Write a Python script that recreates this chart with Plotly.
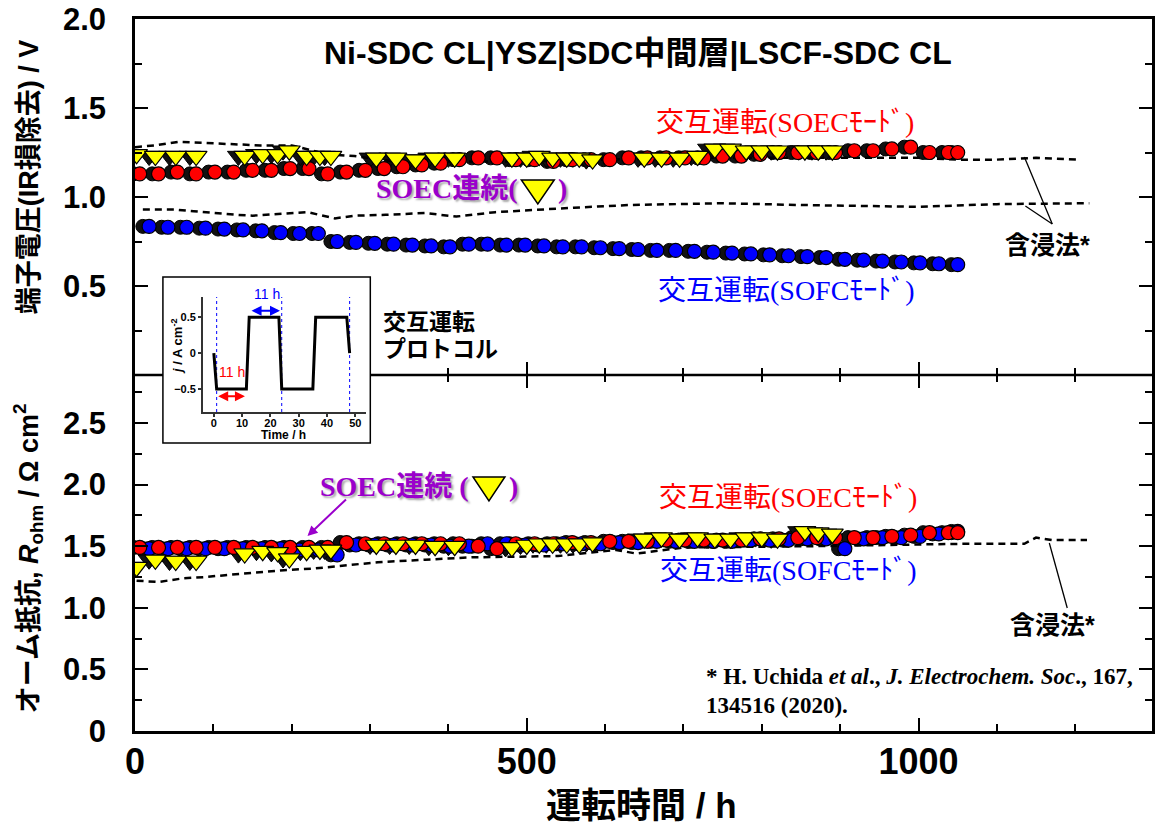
import plotly.graph_objects as go

# ---------------- data ----------------
# alternating operation (SOEC / SOFC modes), time in h
red_t = [6, 30, 54, 78, 102, 126, 150, 174, 198, 222, 246, 270, 294, 318, 342, 366, 390, 414, 438, 462,
         486, 510, 534, 558, 582, 606, 630, 654, 678, 702, 726, 750, 774, 798, 822, 846, 870, 894, 918,
         942, 966, 990, 1014, 1038, 1050]
red_top_v = [1.13, 1.13, 1.14, 1.13, 1.14, 1.14, 1.15, 1.15, 1.16, 1.16, 1.13, 1.14, 1.15, 1.16, 1.17,
             1.18, 1.19, 1.21, 1.22, 1.22, 1.21, 1.21, 1.20, 1.21, 1.21, 1.21, 1.22, 1.22, 1.22, 1.22,
             1.22, 1.23, 1.23, 1.24, 1.25, 1.25, 1.25, 1.25, 1.26, 1.26, 1.27, 1.28, 1.25, 1.25, 1.25]
red_bot_v = [1.49, 1.49, 1.49, 1.49, 1.49, 1.49, 1.49, 1.49, 1.49, 1.49, 1.49, 1.53, 1.52, 1.52, 1.52,
             1.52, 1.52, 1.52, 1.50, 1.48, 1.52, 1.52, 1.52, 1.53, 1.53, 1.54, 1.54, 1.54, 1.55, 1.55,
             1.55, 1.55, 1.55, 1.56, 1.56, 1.57, 1.57, 1.57, 1.57, 1.57, 1.58, 1.59, 1.61, 1.61, 1.61]

blue_t = [18, 42, 66, 90, 114, 138, 162, 186, 210, 234, 258, 282, 306, 330, 354, 378, 402, 426, 450, 474,
          498, 522, 546, 570, 594, 618, 642, 666, 690, 714, 738, 762, 786, 810, 834, 858, 882, 906, 930,
          954, 978, 1002, 1026, 1050]
blue_top_v = [0.835, 0.83, 0.83, 0.825, 0.82, 0.815, 0.81, 0.80, 0.795, 0.795, 0.75, 0.745, 0.74, 0.735,
              0.73, 0.725, 0.72, 0.735, 0.735, 0.73, 0.73, 0.725, 0.72, 0.72, 0.715, 0.71, 0.705, 0.70,
              0.70, 0.695, 0.69, 0.685, 0.68, 0.675, 0.67, 0.665, 0.66, 0.65, 0.645, 0.64, 0.635, 0.63,
              0.625, 0.62]
blue_bot_v = [1.48, 1.48, 1.48, 1.48, 1.48, 1.48, 1.48, 1.48, 1.47, 1.47, 1.43, 1.51, 1.51, 1.51, 1.51,
              1.51, 1.50, 1.50, 1.52, 1.52, 1.51, 1.51, 1.52, 1.52, 1.52, 1.53, 1.53, 1.54, 1.54, 1.54,
              1.54, 1.54, 1.55, 1.55, 1.55, 1.56, 1.56, 1.48, 1.56, 1.57, 1.57, 1.58, 1.60, 1.62]

# continuous SOEC operation
yel_t = [2, 26, 52, 78, 140, 163, 182, 197, 219, 236, 250, 308, 333, 358, 383, 408, 481, 500, 516, 533,
         551, 567, 584, 650, 672, 695, 718, 740, 760, 780, 800, 820, 855, 872, 890]
yel_top_v = [1.24, 1.23, 1.23, 1.23, 1.23, 1.24, 1.24, 1.26, 1.23, 1.23, 1.23, 1.22, 1.22, 1.21, 1.22,
             1.22, 1.22, 1.22, 1.23, 1.22, 1.22, 1.22, 1.21, 1.22, 1.22, 1.22, 1.23, 1.27, 1.27, 1.26,
             1.26, 1.26, 1.26, 1.26, 1.26]
yel_bot_v = [1.33, 1.39, 1.38, 1.38, 1.44, 1.46, 1.45, 1.40, 1.46, 1.47, 1.47, 1.51, 1.51, 1.51, 1.50,
             1.50, 1.49, 1.51, 1.52, 1.52, 1.52, 1.52, 1.53, 1.56, 1.57, 1.56, 1.57, 1.56, 1.56, 1.57,
             1.57, 1.56, 1.62, 1.61, 1.60]

# impregnation method (reference, dashed)
imp_soec_t = [0, 25, 55, 110, 160, 200, 245, 280, 330, 400, 500, 600, 700, 800, 900, 1000, 1050, 1100,
              1150, 1206]
imp_soec_v = [1.28, 1.29, 1.31, 1.30, 1.29, 1.29, 1.24, 1.23, 1.20, 1.20, 1.20, 1.21, 1.22, 1.22, 1.22,
              1.22, 1.21, 1.21, 1.22, 1.21]
imp_sofc_t = [10, 50, 75, 100, 130, 150, 180, 220, 255, 280, 320, 370, 410, 460, 560, 630, 750, 850,
              1000, 1100, 1218]
imp_sofc_v = [0.93, 0.93, 0.92, 0.91, 0.90, 0.895, 0.905, 0.915, 0.88, 0.895, 0.90, 0.91, 0.89, 0.915,
              0.94, 0.955, 0.965, 0.955, 0.945, 0.96, 0.965]
imp_r_t = [2, 30, 62, 90, 115, 160, 190, 230, 280, 310, 370, 430, 540, 614, 640, 700, 860, 940, 1060,
           1135, 1150, 1170, 1215]
imp_r_v = [1.22, 1.21, 1.24, 1.25, 1.265, 1.29, 1.305, 1.32, 1.35, 1.37, 1.39, 1.41, 1.42, 1.47, 1.44,
           1.49, 1.50, 1.51, 1.52, 1.52, 1.57, 1.55, 1.55]

# inset: alternating-operation protocol
proto_t = [0, 1, 11.5, 12.5, 23, 24, 35, 36, 47, 48]
proto_j = [0, -0.5, -0.5, 0.5, 0.5, -0.5, -0.5, 0.5, 0.5, 0]
proto_marks = [1, 24, 48]

x_ticks = [0, 500, 1000]
x_ticktext = ["0", "500", "1000"]
top_ticks = [0.5, 1.0, 1.5, 2.0]
top_ticktext = ["0.5", "1.0", "1.5", "2.0"]
bot_ticks = [0, 0.5, 1.0, 1.5, 2.0, 2.5]
bot_ticktext = ["0", "0.5", "1.0", "1.5", "2.0", "2.5"]

# ---------------- geometry ----------------
W, H = 1155, 824
L, T, PW, PH = 135, 19, 1020, 712
XMAX = 1298
SH = 8.0          # shadow shift (h)
TOP_MAX = 2.0
BOT_MAX = 2.89


def PX(x):
    return (x - L) / PW


def PY(y):
    return (T + PH - y) / PH


SANS = "Liberation Sans, Noto Sans CJK JP"
SERIF = "Liberation Serif, Noto Sans CJK JP"
PURPLE = "#9A00CC"

fig = go.Figure()


def marker_pair(t, v, color, symbol, size, xa_main, xa_shadow, ya):
    fig.add_trace(go.Scatter(x=t, y=v, mode="markers", xaxis=xa_shadow, yaxis=ya,
                             marker=dict(symbol=symbol, size=size, color="#111111",
                                         line=dict(color="black", width=1)),
                             hoverinfo="skip", showlegend=False))
    return dict(x=t, y=v, mode="markers", xaxis=xa_main, yaxis=ya,
                marker=dict(symbol=symbol, size=size, color=color,
                            line=dict(color="black", width=1.2)), showlegend=False)


CS, TS = 14, 19
main_traces = []
# top panel
main_traces.append(marker_pair(red_t, red_top_v, "#FF0000", "circle", CS, "x4", "x2", "y2"))
main_traces.append(marker_pair(blue_t, blue_top_v, "#0000FF", "circle", CS, "x4", "x2", "y2"))
main_traces.append(marker_pair(yel_t, yel_top_v, "#FFFF00", "triangle-down", TS, "x4", "x2", "y2"))
# bottom panel
main_traces.append(marker_pair(blue_t, blue_bot_v, "#0000FF", "circle", CS, "x3", "x", "y"))
main_traces.append(marker_pair(red_t, red_bot_v, "#FF0000", "circle", CS, "x3", "x", "y"))
main_traces.append(marker_pair(yel_t, yel_bot_v, "#FFFF00", "triangle-down", TS, "x3", "x", "y"))

dash = dict(color="black", width=2.5, dash="7px,5px")
fig.add_trace(go.Scatter(x=imp_soec_t, y=imp_soec_v, mode="lines", line=dash, xaxis="x4", yaxis="y2",
                         showlegend=False))
fig.add_trace(go.Scatter(x=imp_sofc_t, y=imp_sofc_v, mode="lines", line=dash, xaxis="x4", yaxis="y2",
                         showlegend=False))
fig.add_trace(go.Scatter(x=imp_r_t, y=imp_r_v, mode="lines", line=dash, xaxis="x3", yaxis="y",
                         showlegend=False))
for tr in main_traces:
    fig.add_trace(go.Scatter(**tr))
fig.add_trace(go.Scatter(x=[], y=[], xaxis="x6", yaxis="y", showlegend=False))

# inset
iy0, iy1 = -0.82, 0.78
vx, vy = [], []
for m in proto_marks:
    vx += [m, m, None]
    vy += [iy0, iy1, None]
fig.add_trace(go.Scatter(x=vx, y=vy, mode="lines", xaxis="x5", yaxis="y5",
                         line=dict(color="#0000FF", width=1, dash="3px,3px"), showlegend=False))
fig.add_trace(go.Scatter(x=proto_t, y=proto_j, mode="lines", xaxis="x5", yaxis="y5",
                         line=dict(color="black", width=3), showlegend=False))

tickfont_y = dict(family=SANS, size=31, color="black", weight="bold")
tickfont_x = dict(family=SANS, size=36, color="black", weight="bold")
minor_all = [v for v in range(100, 1300, 100) if v % 500]
minor_mid = [v for v in minor_all if v > 300]

common_x = dict(showgrid=False, zeroline=False)
fig.update_layout(
    width=W, height=H, margin=dict(l=L, r=W - L - PW, t=T, b=H - T - PH),
    paper_bgcolor="white", plot_bgcolor="rgba(0,0,0,0)", showlegend=False,
    # shadow (base) axes: draw outer frame lines only
    xaxis=dict(domain=[0, 1], anchor="y", range=[SH, XMAX + SH], showline=True, linewidth=2.5,
               linecolor="black", ticks="", showticklabels=False, **common_x),
    xaxis2=dict(domain=[0, 1], anchor="y2", side="top", range=[SH, XMAX + SH], showline=True,
                linewidth=2.5, linecolor="black", ticks="", showticklabels=False, **common_x),
    # main axes
    xaxis3=dict(overlaying="x", anchor="y", side="bottom", range=[0, XMAX], showline=False,
                tickmode="array", tickvals=x_ticks, ticktext=x_ticktext, ticks="inside", ticklen=13,
                tickwidth=2, tickcolor="black", tickfont=tickfont_x, ticklabelstandoff=6,
                minor=dict(tickmode="array", tickvals=minor_all, ticks="inside", ticklen=7,
                           tickwidth=2, tickcolor="black"), **common_x),
    xaxis6=dict(overlaying="x", anchor="y", side="top", range=[0, XMAX], showline=False,
                tickmode="array", tickvals=[500, 1000], ticks="inside", ticklen=13, tickwidth=2,
                tickcolor="black", showticklabels=False,
                minor=dict(tickmode="array", tickvals=minor_mid, ticks="inside", ticklen=7,
                           tickwidth=2, tickcolor="black"), **common_x),
    xaxis4=dict(overlaying="x2", anchor="y2", side="bottom", range=[0, XMAX], showline=False,
                tickmode="array", tickvals=[500, 1000], ticks="inside", ticklen=13, tickwidth=2,
                tickcolor="black", showticklabels=False,
                minor=dict(tickmode="array", tickvals=minor_mid, ticks="inside", ticklen=7,
                           tickwidth=2, tickcolor="black"), **common_x),
    yaxis=dict(domain=[0, 0.5], anchor="x", range=[0, BOT_MAX], tickmode="array", tickvals=bot_ticks,
               ticktext=bot_ticktext, ticks="inside", ticklen=13, tickwidth=2, tickcolor="black",
               showline=True, linewidth=2.5, linecolor="black", mirror="ticks", tickfont=tickfont_y,
               ticklabelstandoff=20, showgrid=False, zeroline=False,
               minor=dict(tickmode="array", tickvals=[0.25, 0.75, 1.25, 1.75, 2.25, 2.75],
                          ticks="inside", ticklen=7, tickwidth=2, tickcolor="black")),
    yaxis2=dict(domain=[0.5, 1], anchor="x2", range=[0.0001, TOP_MAX], tickmode="array",
                tickvals=top_ticks, ticktext=top_ticktext, ticks="inside", ticklen=13, tickwidth=2,
                tickcolor="black", showline=True, linewidth=2.5, linecolor="black", mirror="ticks",
                tickfont=tickfont_y, ticklabelstandoff=20, showgrid=False, zeroline=False,
                minor=dict(tickmode="array", tickvals=[0.25, 0.75, 1.25, 1.75], ticks="inside",
                           ticklen=7, tickwidth=2, tickcolor="black")),
    # inset axes
    xaxis5=dict(domain=[PX(203), PX(367)], anchor="y5", range=[-3.9, 53.9], tickmode="array",
                tickvals=[0, 10, 20, 30, 40, 50], ticks="outside", ticklen=3, tickwidth=1.5,
                tickcolor="#333", showline=True, linewidth=1.5, linecolor="#333",
                ticklabelstandoff=-3,
                tickfont=dict(family=SANS, size=11, color="black", weight="bold"), **common_x),
    yaxis5=dict(domain=[PY(412), PY(297)], anchor="x5", range=[iy0, iy1], tickmode="array",
                tickvals=[-0.5, 0, 0.5], ticktext=["\u22120.5", "0", "0.5"], ticks="outside",
                ticklen=3, tickwidth=1.5, tickcolor="#333", showline=True, linewidth=1.5,
                linecolor="#333", tickfont=dict(family=SANS, size=11, color="black", weight="bold"),
                showgrid=False, zeroline=False),
)

shapes = []
# middle frame line (drawn below, inset box covers it)
shapes.append(dict(type="line", xref="paper", yref="paper", x0=0, x1=1, y0=0.5, y1=0.5,
                   line=dict(color="black", width=2.5), layer="below"))
shapes.append(dict(type="rect", xref="paper", yref="paper", x0=PX(163), x1=PX(371), y0=PY(443),
                   y1=PY(277), line=dict(color="black", width=1.5), fillcolor="white", layer="below"))
# leader lines for 含浸法*
for (a, b, c, d) in [(1027, 157, 1055, 224), (1028, 206, 1055, 224), (1052, 543, 1070, 608)]:
    shapes.append(dict(type="line", xref="paper", yref="paper", x0=PX(a), y0=PY(b), x1=PX(c),
                       y1=PY(d), line=dict(color="black", width=1.3)))


def tri(cx, top, w, h):
    return dict(type="path", xref="paper", yref="paper",
                path=f"M {PX(cx - w / 2)},{PY(top)} L {PX(cx + w / 2)},{PY(top)} L {PX(cx)},{PY(top + h)} Z",
                fillcolor="#FFFF00", line=dict(color="black", width=1.5))


shapes.append(tri(539, 180, 33, 24))
shapes.append(tri(490, 477, 32, 24))
fig.update_layout(shapes=shapes)

ann = []


def text(x, y, s, size, family=SANS, color="black", xanchor="center", angle=0, shadow=None):
    f = dict(family=family, size=size, color=color)
    if shadow:
        f["shadow"] = shadow
    ann.append(dict(x=PX(x), y=PY(y), xref="paper", yref="paper", text=s, showarrow=False,
                    xanchor=xanchor, yanchor="middle", textangle=angle, font=f))


text(639, 53, "<b>Ni-SDC CL|YSZ|SDC中間層|LSCF-SDC CL</b>", 32)
text(29, 177, "<b>端子電圧(IR損除去) / V</b>", 27, angle=-90)
text(28, 558, "<b>オーム抵抗, <i>R</i><sub>ohm</sub> / Ω cm<sup>2</sup></b>", 27, angle=-90)
text(643, 805, "<b>運転時間 / h</b>", 35)

text(787, 122, "交互運転(SOECﾓｰﾄﾞ)", 28, family=SERIF, color="#FF0000")
text(788, 290, "交互運転(SOFCﾓｰﾄﾞ)", 28, family=SERIF, color="#0000FF")
text(790, 497, "交互運転(SOECﾓｰﾄﾞ)", 28, family=SERIF, color="#FF0000")
text(790, 570, "交互運転(SOFCﾓｰﾄﾞ)", 28, family=SERIF, color="#0000FF")

sh = "2px 2px 2px #aaaaaa"
text(521, 189, "<b>SOEC連続(</b>", 28, family=SERIF, color=PURPLE, xanchor="right", shadow=sh)
text(557, 189, "<b>)</b>", 28, family=SERIF, color=PURPLE, xanchor="left", shadow=sh)
text(472, 487, "<b>SOEC連続 (</b>", 28, family=SERIF, color=PURPLE, xanchor="right", shadow=sh)
text(508, 487, "<b>)</b>", 28, family=SERIF, color=PURPLE, xanchor="left", shadow=sh)

text(1050, 245, "<b>含浸法*</b>", 25)
text(1055, 625, "<b>含浸法*</b>", 25)

text(382, 322, "<b>交互運転</b>", 23, xanchor="left")
text(382, 349, "<b>プロトコル</b>", 23, xanchor="left")

text(706, 676, "<b>* H. Uchida <i>et al</i>., <i>J. Electrochem. Soc</i>., 167,</b>", 23,
     family=SERIF, xanchor="left")
text(706, 705, "<b>134516 (2020).</b>", 23, family=SERIF, xanchor="left")

# inset labels
text(284, 435, "<b>Time / h</b>", 12)
text(177, 346, "<b><i>j</i> / A cm<sup>-2</sup></b>", 13, angle=-90)
text(267, 294, "11 h", 14, color="#0000FF")
text(232, 372, "11 h", 14, color="#FF0000")

# purple arrow
ann.append(dict(x=PX(308), y=PY(536), xref="paper", yref="paper", ax=40, ay=-38, text="",
                showarrow=True, arrowhead=2, arrowsize=1, arrowwidth=2, arrowcolor=PURPLE))
# double arrows in inset
ann.append(dict(x=23.4, y=0.59, xref="x5", yref="y5", ax=12.8, ay=0.59, axref="x5", ayref="y5",
                text="", showarrow=True, arrowhead=2, arrowsize=1, arrowwidth=2,
                arrowcolor="#0000FF", arrowside="end+start", startarrowhead=2))
ann.append(dict(x=11, y=-0.6, xref="x5", yref="y5", ax=1, ay=-0.6, axref="x5", ayref="y5",
                text="", showarrow=True, arrowhead=2, arrowsize=1, arrowwidth=2,
                arrowcolor="#FF0000", arrowside="end+start", startarrowhead=2))
fig.update_layout(annotations=ann)

fig.write_html("out.html")
